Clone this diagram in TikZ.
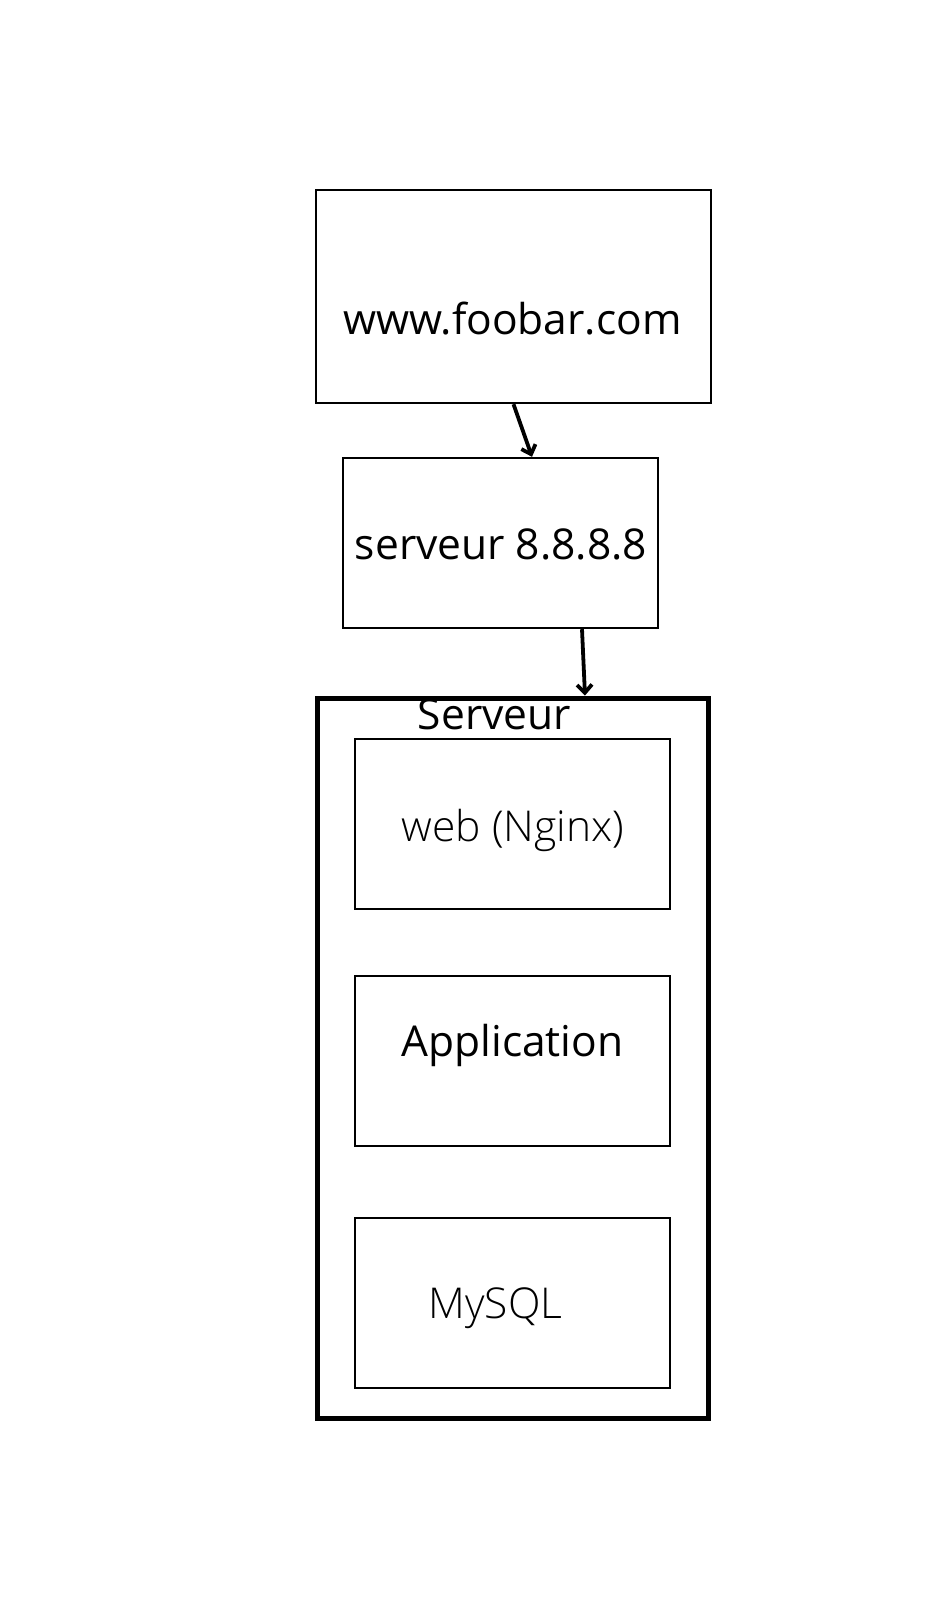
\documentclass[tikz,border=0pt]{standalone}
\usepackage{fontspec}
\setmainfont{Open Sans}
\IfFontExistsTF{Open Sans Light}{\newfontfamily\lightfont{Open Sans Light}}{\newfontfamily\lightfont{Open Sans}}
\usetikzlibrary{arrows.meta,shapes}

\begin{document}
\begin{tikzpicture}[x=1pt,y=-1pt,->,>={Straight Barb[length=8pt,width=15pt]},line width=3.8pt,
    box/.style={shape=rectangle,draw=black,line width=2.4pt},
    caption/.style={anchor=base,inner sep=0pt,font=\fontsize{42.5}{50}\selectfont},
    thincaption/.style={caption,font=\fontsize{42.5}{50}\selectfont\lightfont}]
                \useasboundingbox (0,0) rectangle (933,1599);
                \node[box,minimum width=395pt,minimum height=213pt](foobar)at(513.5, 296.5){};
                \node[box,minimum width=315pt,minimum height=170pt](srv)at(500.5, 543){};
                \node[box,line width=5pt,minimum width=391pt,minimum height=720pt](serveur)at(512.5, 1058){};
                \node[box,minimum width=315pt,minimum height=170pt](web)at(512.5, 824){};
                \node[box,minimum width=315pt,minimum height=170pt](app)at(512.5, 1061){};
                \node[box,minimum width=315pt,minimum height=170pt](mysql)at(512.5, 1303){};
                \node[caption](foobartext)at(512.5, 334){www.foobar.com};
                \node[caption](srvtext)at(501, 559){serveur 8.8.8.8};
                \node[caption](serveurtext)at(494.5, 729){Serveur};
                \node[thincaption](webtext)at(513, 841){web (Nginx)};
                \node[caption](apptext)at(512.5, 1056){Application};
                \node[thincaption](mysqltext)at(495.5, 1318){MySQL};
                \path[](foobar.south) edge ([xshift=31.5pt]srv.north)
                ([xshift=81.5pt]srv.south) edge ([xshift=72.5pt]serveur.north);
            \end{tikzpicture}
\end{document}
